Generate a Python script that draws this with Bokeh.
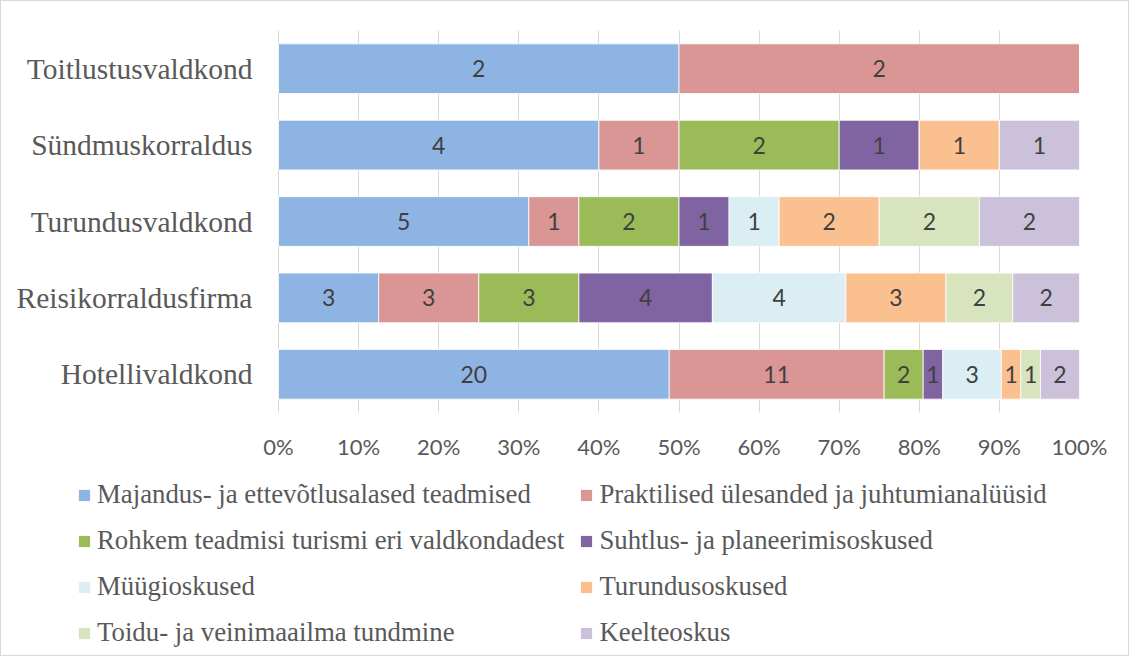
from bokeh.plotting import figure
from bokeh.layouts import column
from bokeh.models import ColumnDataSource, Legend, LegendItem, NumeralTickFormatter, FixedTicker, Range1d
from bokeh.core.properties import value
from bokeh.embed import file_html
from bokeh.resources import INLINE

categories = ["Hotellivaldkond", "Reisikorraldusfirma", "Turundusvaldkond",
              "Sündmuskorraldus", "Toitlustusvaldkond"]

series_names = [
    "Majandus- ja ettevõtlusalased teadmised",
    "Praktilised ülesanded ja juhtumianalüüsid",
    "Rohkem teadmisi turismi eri valdkondadest",
    "Suhtlus- ja planeerimisoskused",
    "Müügioskused",
    "Turundusoskused",
    "Toidu- ja veinimaailma tundmine",
    "Keelteoskus",
]

majandus = [20, 3, 5, 4, 2]
praktilised = [11, 3, 1, 1, 2]
rohkem = [2, 3, 2, 2, 0]
suhtlus = [1, 4, 1, 1, 0]
myygi = [3, 4, 1, 0, 0]
turundus = [1, 3, 2, 1, 0]
toidu = [1, 2, 2, 0, 0]
keel = [2, 2, 2, 1, 0]

colors = ["#8EB4E3", "#D99694", "#9BBB59", "#8064A2",
          "#DAEEF3", "#FAC090", "#D7E4BD", "#CCC1DA"]

x_ticks = [0.0, 0.1, 0.2, 0.3, 0.4, 0.5, 0.6, 0.7, 0.8, 0.9, 1.0]

series = [majandus, praktilised, rohkem, suhtlus, myygi, turundus, toidu, keel]
totals = [sum(s[i] for s in series) for i in range(len(categories))]

W = 1127
LEFT = 10
# The frame starts near the left edge so that category labels fit inside it;
# 0% lies 267 px inside the frame.
p = figure(width=W, height=470, y_range=categories, x_range=Range1d(-267 / 801, 1.0),
           output_backend="svg", toolbar_location=None,
           min_border_left=LEFT, min_border_right=49, min_border_top=29,
           min_border_bottom=59)
p.outline_line_color = None

stack_parts = []
cum = [0.0] * len(categories)
for name, vals, col in zip(series_names, series, colors):
    left = list(cum)
    right = [c + v / t for c, v, t in zip(cum, vals, totals)]
    stack_parts.append((left, right))
    src = ColumnDataSource(dict(y=categories, left=left, right=right))
    p.hbar(y="y", left="left", right="right", height=0.65, source=src,
           fill_color=col, line_color="white", line_width=0.8)
    lab_y = [c for c, v in zip(categories, vals) if v > 0]
    lab_x = [(l + rr) / 2 for l, rr, v in zip(left, right, vals) if v > 0]
    lab_t = [str(v) for v in vals if v > 0]
    lsrc = ColumnDataSource(dict(x=lab_x, y=lab_y, t=lab_t))
    p.text(x="x", y="y", text="t", source=lsrc, text_align="center",
           text_baseline="middle", text_font=value("Lato"),
           text_font_size="23px", text_color="#404040")
    cum = right

# category labels, right-aligned just left of 0%
cat_src = ColumnDataSource(dict(x=[-0.0325] * len(categories), y=categories, t=categories))
p.text(x="x", y="y", text="t", source=cat_src, text_align="right",
       text_baseline="middle", text_font=value("Liberation Serif"),
       text_font_size="29.5px", text_color="#595959")

p.xaxis.ticker = FixedTicker(ticks=x_ticks)
p.xaxis.formatter = NumeralTickFormatter(format="0%")
p.xaxis.axis_line_color = None
p.xaxis.major_tick_line_color = None
p.xaxis.minor_tick_line_color = None
p.xaxis.major_tick_out = 0
p.xaxis.major_label_standoff = 20
p.xaxis.major_label_text_font = "Lato"
p.xaxis.major_label_text_font_size = "22px"
p.xaxis.major_label_text_color = "#595959"

p.yaxis.visible = False

p.xgrid.grid_line_color = "#d9d9d9"
p.xgrid.grid_line_width = 1
p.ygrid.grid_line_color = None

# legend panel: a second figure whose (hidden) renderers only supply swatches
pl = figure(width=W, height=184, x_range=Range1d(0, 1), y_range=Range1d(0, 1),
            output_backend="svg", toolbar_location=None,
            min_border_left=LEFT, min_border_right=49, min_border_top=0, min_border_bottom=0)
pl.axis.visible = False
pl.grid.visible = False
pl.outline_line_color = None
items = []
for name, col, (left, right) in zip(series_names, colors, stack_parts):
    lsrc = ColumnDataSource(dict(y=list(range(len(categories))), left=left, right=right))
    r = pl.hbar(y="y", left="left", right="right", height=0.65, source=lsrc,
                fill_color=col, line_color=None, visible=False)
    items.append(LegendItem(label=name, renderers=[r]))
legend = Legend(items=items, ncols=2, orientation="horizontal",
                location=(76 - LEFT, 7), padding=0, margin=0, click_policy="none",
                border_line_color=None, background_fill_alpha=0,
                inactive_fill_alpha=0,
                glyph_width=14, glyph_height=14, label_standoff=6,
                label_height=30, spacing=15,
                label_text_font="Liberation Serif", label_text_font_size="26.8px",
                label_text_color="#595959")
pl.add_layout(legend, "center")

layout = column(p, pl, spacing=0)
layout.styles = {"border": "1px solid #d9d9d9"}

open("out.html", "w").write(file_html(layout, INLINE))
